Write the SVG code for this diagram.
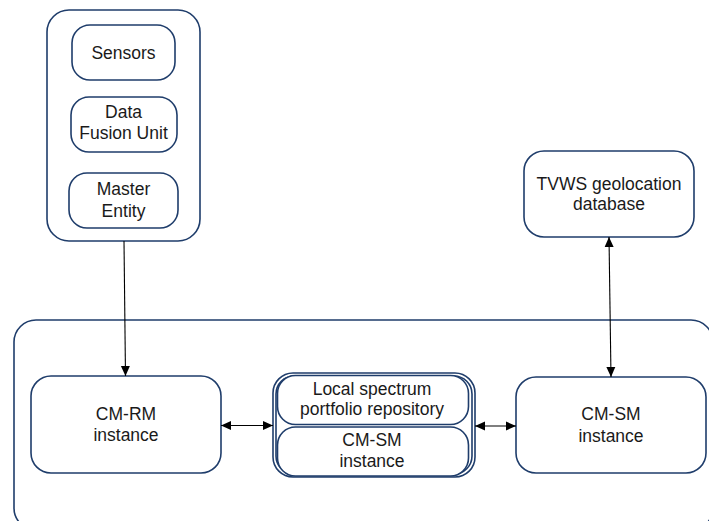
<svg xmlns="http://www.w3.org/2000/svg" width="709" height="521" viewBox="0 0 709 521">
<defs>
<style>
.box{fill:#fff;stroke:#1f3d6b;stroke-width:1.6}
.t{font-family:"Liberation Sans",Arial,sans-serif;font-size:17.5px;fill:#1a1a1a;text-anchor:middle}
.c{stroke:#000;stroke-width:1.1;fill:none}
</style>
<marker id="ah" viewBox="0 0 10 10" refX="10" refY="5" markerWidth="10" markerHeight="10" markerUnits="userSpaceOnUse" orient="auto-start-reverse">
<path d="M0,0.5 L10,5 L0,9.5 Z" fill="#000"/>
</marker>
</defs>
<rect width="709" height="521" fill="#fff"/>
<g id="container">
<rect class="box" x="14" y="320" width="699" height="210" rx="22"/>
</g>
<g id="top-group">
<rect class="box" x="47" y="10" width="153" height="231" rx="22"/>
</g>
<g id="sensors">
<rect class="box" x="72" y="25" width="103" height="55" rx="18"/>
<text class="t" x="123.5" y="59">Sensors</text>
</g>
<g id="fusion">
<rect class="box" x="71" y="97" width="106" height="55" rx="18"/>
<text class="t" x="123.5" y="118">Data</text>
<text class="t" x="123.5" y="139">Fusion Unit</text>
</g>
<g id="master">
<rect class="box" x="69" y="173" width="109" height="55" rx="18"/>
<text class="t" x="123.5" y="195">Master</text>
<text class="t" x="123.5" y="217">Entity</text>
</g>
<g id="tvws">
<rect class="box" x="524" y="151" width="170" height="86" rx="20"/>
<text class="t" x="609" y="190">TVWS geolocation</text>
<text class="t" x="609" y="210">database</text>
</g>
<g id="cmrm">
<rect class="box" x="31" y="376" width="190" height="97" rx="20"/>
<text class="t" x="126" y="420">CM-RM</text>
<text class="t" x="126" y="441">instance</text>
</g>
<g id="repo-group">
<rect class="box" x="273" y="373" width="202" height="104" rx="20"/>
<rect class="box" x="276" y="376" width="196" height="98" rx="18"/>
</g>
<g id="repo">
<rect class="box" x="277.5" y="375.5" width="191" height="49" rx="18"/>
<text class="t" x="372" y="395">Local spectrum</text>
<text class="t" x="372" y="415">portfolio repository</text>
</g>
<g id="cmsm-inner">
<rect class="box" x="277.5" y="427" width="191" height="49" rx="18"/>
<text class="t" x="372" y="446">CM-SM</text>
<text class="t" x="372" y="467">instance</text>
</g>
<g id="cmsm">
<rect class="box" x="516" y="377" width="190" height="96" rx="20"/>
<text class="t" x="611" y="420">CM-SM</text>
<text class="t" x="611" y="442">instance</text>
</g>
<g id="connectors">
<line class="c" x1="124" y1="241" x2="125.5" y2="376" marker-end="url(#ah)"/>
<line class="c" x1="221" y1="425.5" x2="273" y2="425.5" marker-start="url(#ah)" marker-end="url(#ah)"/>
<line class="c" x1="475" y1="426" x2="516" y2="426" marker-start="url(#ah)" marker-end="url(#ah)"/>
<line class="c" x1="609" y1="237" x2="611" y2="377" marker-start="url(#ah)" marker-end="url(#ah)"/>
</g>
</svg>
